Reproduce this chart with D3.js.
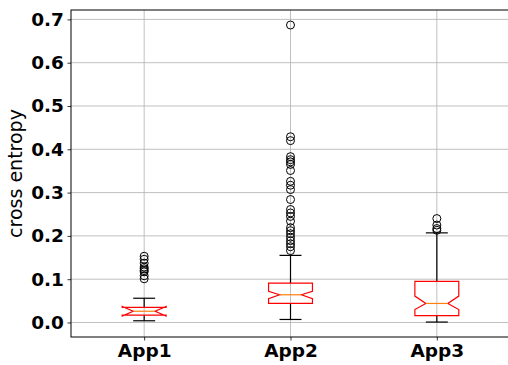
<!DOCTYPE html>
<html>
<head>
<meta charset="utf-8">
<script src="https://cdn.jsdelivr.net/npm/d3@7"></script>
<style>
html,body{margin:0;padding:0;background:#fff;}
svg{display:block;}
</style>
</head>
<body>
<svg id="chart" width="508" height="365"></svg>
<script>
const categories = ["App1", "App2", "App3"];
const q1 = [0.017, 0.044, 0.016];
const median = [0.026, 0.064, 0.044];
const q3 = [0.035, 0.091, 0.095];
const whiskerLow = [0.004, 0.007, 0.001];
const whiskerHigh = [0.056, 0.155, 0.207];
const notchLow = [0.015, 0.055, 0.030];
const notchHigh = [0.037, 0.072, 0.061];
const outliersApp1 = [0.153, 0.146, 0.137, 0.128, 0.124, 0.120, 0.117, 0.108, 0.101];
const outliersApp2 = [0.687, 0.429, 0.420, 0.383, 0.376, 0.371, 0.365, 0.351, 0.326, 0.317, 0.307, 0.284, 0.261, 0.253, 0.245, 0.234, 0.219, 0.212, 0.205, 0.197, 0.189, 0.182, 0.175, 0.166];
const outliersApp3 = [0.240, 0.225, 0.217, 0.213];
const outliers = [outliersApp1, outliersApp2, outliersApp3];
const yTicks = [0.0, 0.1, 0.2, 0.3, 0.4, 0.5, 0.6, 0.7];

const svg = d3.select("#chart");
const mLeft = 71, mRight = 510, mTop = 10, mBottom = 337;

const x = d3.scaleLinear().domain([0.5, 3.5]).range([mLeft, mRight]);
const y = d3.scaleLinear().domain([-0.0335, 0.7217]).range([mBottom, mTop]);

const boxW = 0.3, capW = 0.15;

// grid
const grid = svg.append("g");
yTicks.forEach(t => {
  grid.append("line").attr("x1", mLeft).attr("x2", mRight).attr("y1", y(t)).attr("y2", y(t))
    .attr("stroke", "#b0b0b0").attr("stroke-width", 0.8);
});
categories.forEach((c, i) => {
  grid.append("line").attr("x1", x(i + 1)).attr("x2", x(i + 1)).attr("y1", mTop).attr("y2", mBottom)
    .attr("stroke", "#b0b0b0").attr("stroke-width", 0.8);
});

// axes
const yAxis = d3.axisLeft(y).tickValues(yTicks).tickFormat(d3.format(".1f")).tickSize(3.5).tickPadding(3.5);
const gy = svg.append("g").attr("transform", `translate(${mLeft},0)`).call(yAxis);
gy.select(".domain").remove();
gy.selectAll(".tick line").attr("stroke", "#000").attr("stroke-width", 0.8);
gy.selectAll(".tick text").attr("font-family", "DejaVu Sans").attr("font-weight", "bold")
  .attr("font-size", "18.5px").attr("fill", "#000");

const xAxis = d3.axisBottom(x).tickValues([1, 2, 3]).tickFormat((d) => categories[d - 1]).tickSize(3.5).tickPadding(3.5);
const gx = svg.append("g").attr("transform", `translate(0,${mBottom})`).call(xAxis);
gx.select(".domain").remove();
gx.selectAll(".tick line").attr("stroke", "#000").attr("stroke-width", 0.8);
gx.selectAll(".tick text").attr("font-family", "DejaVu Sans").attr("font-weight", "bold")
  .attr("font-size", "18.5px").attr("fill", "#000");

// boxes
const marks = svg.append("g");
categories.forEach((c, i) => {
  const pos = i + 1;
  const bl = pos - boxW / 2, br = pos + boxW / 2;
  const nl = pos - boxW / 4, nr = pos + boxW / 4;
  marks.append("line").attr("x1", x(pos)).attr("x2", x(pos)).attr("y1", y(q1[i])).attr("y2", y(whiskerLow[i]))
    .attr("stroke", "#000").attr("stroke-width", 1.2);
  marks.append("line").attr("x1", x(pos)).attr("x2", x(pos)).attr("y1", y(q3[i])).attr("y2", y(whiskerHigh[i]))
    .attr("stroke", "#000").attr("stroke-width", 1.2);
  [whiskerLow[i], whiskerHigh[i]].forEach(v => {
    marks.append("line").attr("x1", x(pos - capW / 2)).attr("x2", x(pos + capW / 2)).attr("y1", y(v)).attr("y2", y(v))
      .attr("stroke", "#000").attr("stroke-width", 1.2);
  });
  const bx = [bl, br, br, nr, br, br, bl, bl, nl, bl, bl];
  const by = [q1[i], q1[i], notchLow[i], median[i], notchHigh[i], q3[i], q3[i], notchHigh[i], median[i], notchLow[i], q1[i]];
  const pts = bx.map((v, k) => [x(v), y(by[k])]);
  marks.append("path").attr("d", d3.line()(pts) + "Z").attr("fill", "none")
    .attr("stroke", "#ff0000").attr("stroke-width", 1.2);
  marks.append("line").attr("x1", x(nl)).attr("x2", x(nr)).attr("y1", y(median[i])).attr("y2", y(median[i]))
    .attr("stroke", "#ff7f0e").attr("stroke-width", 1.2);
  outliers[i].forEach(v => {
    marks.append("circle").attr("cx", x(pos)).attr("cy", y(v)).attr("r", 4)
      .attr("fill", "none").attr("stroke", "#000").attr("stroke-width", 1);
  });
});

// frame
svg.append("rect").attr("x", mLeft).attr("y", mTop).attr("width", mRight - mLeft).attr("height", mBottom - mTop)
  .attr("fill", "none").attr("stroke", "#000").attr("stroke-width", 1);

// y label
svg.append("text").attr("transform", `translate(22,${(mTop + mBottom) / 2}) rotate(-90)`)
  .attr("text-anchor", "middle").attr("font-family", "DejaVu Sans").attr("font-size", "19px")
  .attr("fill", "#000").text("cross entropy");
</script>
</body>
</html>
